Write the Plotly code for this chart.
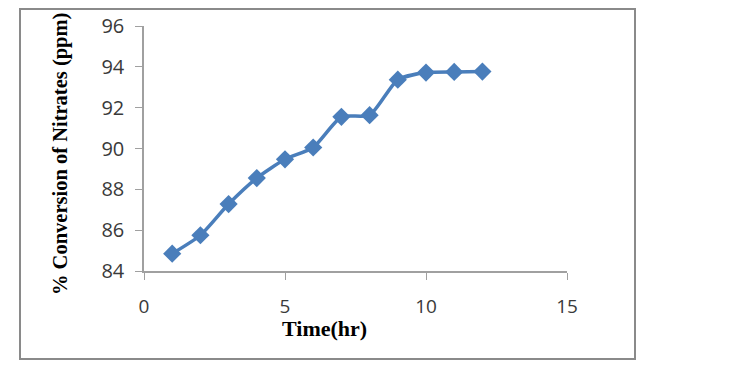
import plotly.graph_objects as go

time_hr = [1, 2, 3, 4, 5, 6, 7, 8, 9, 10, 11, 12]
conversion = [84.85, 85.75, 87.28, 88.55, 89.47, 90.05, 91.55, 91.63, 93.37, 93.72, 93.75, 93.77]

x_ticks = [0, 5, 10, 15]
y_ticks = [84, 86, 88, 90, 92, 94, 96]

OFF = 8  # page body margin
W, H = 743 - 2 * OFF, 377 - 2 * OFF
L, R, T, B = 144 - OFF, 567 - OFF, 26 - OFF, 271 - OFF  # plot area in figure pixels

fig = go.Figure()
fig.add_trace(go.Scatter(
    x=time_hr, y=conversion, mode="lines+markers",
    line=dict(color="#4A7EBB", width=3.5, shape="spline", smoothing=0.6),
    marker=dict(symbol="diamond", size=14, color="#4A7EBB"),
    showlegend=False,
))

def px_x(p):
    return (p - OFF - L) / (R - L)

def px_y(p):
    return (B - (p - OFF)) / (B - T)

tickfont_y = dict(family="Open Sans, Liberation Sans, sans-serif", size=20, color="#3a3a3a")
tickfont_x = dict(family="Open Sans, Liberation Sans, sans-serif", size=19, color="#3a3a3a")
fig.update_layout(
    width=W, height=H,
    margin=dict(l=L, r=W - R, t=T, b=H - B),
    paper_bgcolor="white", plot_bgcolor="white",
    xaxis=dict(range=[0, 15], tickvals=x_ticks, showgrid=False, zeroline=False,
               showline=True, linecolor="#a0a0a0", linewidth=1.5,
               ticks="outside", ticklen=7, tickcolor="#a0a0a0",
               tickfont=tickfont_x, ticklabelstandoff=10, automargin=False),
    yaxis=dict(range=[84, 96], tickvals=y_ticks, showgrid=False, zeroline=False,
               showline=True, linecolor="#a0a0a0", linewidth=1.5,
               ticks="outside", ticklen=7, tickcolor="#a0a0a0",
               tickfont=tickfont_y, ticklabelstandoff=7, automargin=False),
    shapes=[dict(type="rect", xref="paper", yref="paper",
                 x0=px_x(20), x1=px_x(635), y0=px_y(359), y1=px_y(9),
                 line=dict(color="#8a8a8a", width=2), fillcolor="rgba(0,0,0,0)")],
    annotations=[
        dict(text="<b>% Conversion of Nitrates (ppm)</b>", textangle=-90,
             xref="paper", yref="paper", x=px_x(60), y=px_y(154),
             showarrow=False, xanchor="center", yanchor="middle",
             font=dict(family="Liberation Serif, Times New Roman, serif", size=20.5, color="black")),
        dict(text="<b>Time(hr)</b>",
             xref="paper", yref="paper", x=px_x(324), y=px_y(328),
             showarrow=False, xanchor="center", yanchor="middle",
             font=dict(family="Liberation Serif, Times New Roman, serif", size=22, color="black")),
    ],
)

fig.write_html("out.html")
